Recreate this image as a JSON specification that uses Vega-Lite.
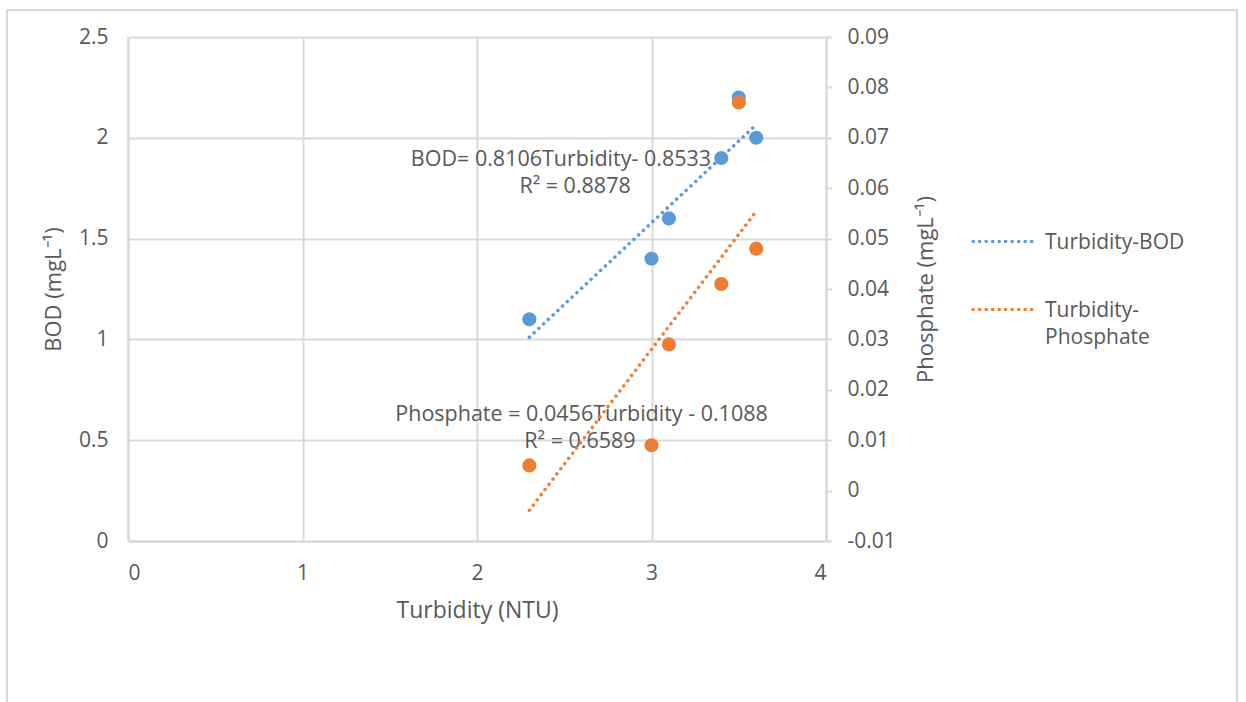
{
  "$schema": "https://vega.github.io/schema/vega-lite/v6.json",
  "autosize": {"type": "none"},
  "padding": {"left": 128, "top": 37, "right": 420, "bottom": 161},
  "width": 698,
  "height": 504,
  "background": "white",
  "config": {
    "font": "Open Sans",
    "view": {"stroke": null},
    "axis": {
      "labelColor": "#595959",
      "titleColor": "#595959",
      "labelFont": "Open Sans",
      "titleFont": "Open Sans",
      "labelFontSize": 21,
      "titleFontSize": 22,
      "titleFontWeight": "normal",
      "domainColor": "#d9d9d9",
      "domainWidth": 2,
      "gridColor": "#d9d9d9",
      "gridWidth": 2,
      "tickColor": "#d9d9d9",
      "tickWidth": 2
    },
    "legend": {
      "labelFont": "Open Sans",
      "labelFontSize": 21,
      "labelColor": "#595959"
    }
  },
  "datasets": {
    "bod": [
      {"Turbidity": 2.3, "BOD": 1.1},
      {"Turbidity": 3.0, "BOD": 1.4},
      {"Turbidity": 3.1, "BOD": 1.6},
      {"Turbidity": 3.4, "BOD": 1.9},
      {"Turbidity": 3.5, "BOD": 2.2},
      {"Turbidity": 3.6, "BOD": 2.0}
    ],
    "phos": [
      {"Turbidity": 2.3, "Phosphate": 0.005},
      {"Turbidity": 3.0, "Phosphate": 0.009},
      {"Turbidity": 3.1, "Phosphate": 0.029},
      {"Turbidity": 3.4, "Phosphate": 0.041},
      {"Turbidity": 3.5, "Phosphate": 0.077},
      {"Turbidity": 3.6, "Phosphate": 0.048}
    ],
    "bodTrend": [
      {"Turbidity": 2.3, "BOD": 1.011, "series": "Turbidity-BOD"},
      {"Turbidity": 3.6, "BOD": 2.065, "series": "Turbidity-BOD"}
    ],
    "phosTrend": [
      {"Turbidity": 2.3, "Phosphate": -0.0039, "series": "Turbidity-Phosphate"},
      {"Turbidity": 3.6, "Phosphate": 0.0554, "series": "Turbidity-Phosphate"}
    ],
    "labels": [
      {"tx": 2.481, "ty": 1.89, "label": "BOD= 0.8106Turbidity- 0.8533"},
      {"tx": 2.562, "ty": 1.756, "label": "R² = 0.8878"},
      {"tx": 2.599, "ty": 0.625, "label": "Phosphate = 0.0456Turbidity - 0.1088"},
      {"tx": 2.59, "ty": 0.491, "label": "R² = 0.6589"}
    ]
  },
  "layer": [
    {
      "layer": [
        {
          "data": {"values": [{}]},
          "mark": {"type": "rect", "fill": null, "fillOpacity": 0, "stroke": "#d9d9d9", "strokeWidth": 2, "clip": false},
          "encoding": {
            "x": {"datum": -0.693, "type": "quantitative"},
            "x2": {"datum": 6.355},
            "y": {"datum": 2.634, "type": "quantitative"},
            "y2": {"datum": -0.9}
          }
        },
        {
          "data": {"name": "bod"},
          "mark": {"type": "point", "filled": true, "size": 200, "opacity": 1, "color": "#5B9BD5"},
          "encoding": {
            "x": {
              "field": "Turbidity", "type": "quantitative",
              "scale": {"domain": [0, 4], "nice": false, "zero": false},
              "axis": {"title": "Turbidity (NTU)", "values": [0, 1, 2, 3, 4], "format": "~g", "grid": true, "ticks": false, "labelPadding": 21, "titlePadding": 16, "domain": true, "titleFontSize": 23}
            },
            "y": {
              "field": "BOD", "type": "quantitative",
              "scale": {"domain": [0, 2.5], "nice": false, "zero": false},
              "axis": {"title": "BOD (mgL⁻¹)", "orient": "left", "values": [0, 0.5, 1, 1.5, 2, 2.5], "format": "~g", "grid": true, "ticks": false, "labelPadding": 20, "titlePadding": 13, "domain": true}
            }
          }
        },
        {
          "data": {"name": "bodTrend"},
          "mark": {"type": "line", "strokeWidth": 3.5, "strokeDash": [0.01, 6.5], "strokeCap": "round"},
          "encoding": {
            "x": {"field": "Turbidity", "type": "quantitative"},
            "y": {"field": "BOD", "type": "quantitative", "title": "BOD (mgL⁻¹)"},
            "color": {
              "field": "series", "type": "nominal",
              "scale": {"domain": ["Turbidity-BOD", "Turbidity-Phosphate"], "range": ["#5B9BD5", "#ED7D31"]},
              "legend": {
                "title": null,
                "orient": "none",
                "legendX": 842,
                "legendY": 172,
                "symbolType": "stroke",
                "symbolDash": [3, 3.5],
                "symbolStrokeWidth": 3,
                "symbolSize": 3800,
                "labelOffset": 10,
                "rowPadding": 24,
                "labelExpr": "datum.label == 'Turbidity-Phosphate' ? ['Turbidity-', 'Phosphate'] : datum.label",
                "labelBaseline": "top",
                "encode": {
                  "labels": {
                    "update": {
                      "lineHeight": {"value": 27},
                      "dy": {"value": -10}
                    }
                  }
                }
              }
            }
          }
        },
        {
          "data": {"name": "labels"},
          "mark": {"type": "text", "fontSize": 21.5, "color": "#595959", "align": "center", "baseline": "middle", "font": "Open Sans"},
          "encoding": {
            "x": {"field": "tx", "type": "quantitative"},
            "y": {"field": "ty", "type": "quantitative", "title": "BOD (mgL⁻¹)"},
            "text": {"field": "label"}
          }
        }
      ]
    },
    {
      "layer": [
        {
          "data": {"name": "phos"},
          "mark": {"type": "point", "filled": true, "size": 200, "opacity": 1, "color": "#ED7D31"},
          "encoding": {
            "x": {"field": "Turbidity", "type": "quantitative"},
            "y": {
              "field": "Phosphate", "type": "quantitative",
              "scale": {"domain": [-0.01, 0.09], "nice": false, "zero": false},
              "axis": {"title": "Phosphate (mgL⁻¹)", "orient": "right", "titleAngle": -90, "titleBaseline": "top", "values": [-0.01, 0, 0.01, 0.02, 0.03, 0.04, 0.05, 0.06, 0.07, 0.08, 0.09], "format": "~g", "labelExpr": "replace(datum.label, '−', '-')", "grid": false, "ticks": true, "tickSize": 6, "labelPadding": 15, "titlePadding": 20, "domain": true}
            }
          }
        },
        {
          "data": {"name": "phosTrend"},
          "mark": {"type": "line", "strokeWidth": 3.5, "strokeDash": [0.01, 6.5], "strokeCap": "round"},
          "encoding": {
            "x": {"field": "Turbidity", "type": "quantitative"},
            "y": {"field": "Phosphate", "type": "quantitative", "title": "Phosphate (mgL⁻¹)"},
            "color": {"field": "series", "type": "nominal"}
          }
        }
      ]
    }
  ],
  "resolve": {"scale": {"y": "independent"}}
}
